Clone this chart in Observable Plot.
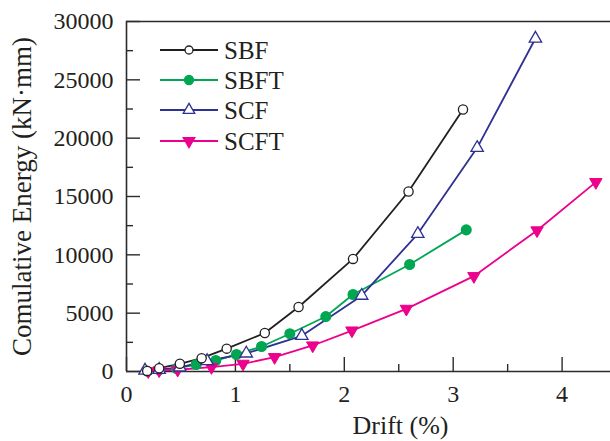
<!DOCTYPE html>
<html>
<head>
<meta charset="utf-8">
<script src="https://cdn.jsdelivr.net/npm/d3@7"></script>
<script src="https://cdn.jsdelivr.net/npm/@observablehq/plot@0.6"></script>
<style>
  html, body { margin: 0; padding: 0; background: #fff; overflow: hidden; }
  #chart { position: relative; width: 610px; height: 441px; }
  svg { font-family: "Liberation Serif", "Times New Roman", serif; }
</style>
</head>
<body>
<div id="chart"></div>
<script>
// ---- data ----
const seriesNames = ["SBF", "SBFT", "SCF", "SCFT"];
const sbfDrift   = [0.19, 0.30, 0.49, 0.69, 0.92, 1.27, 1.58, 2.08, 2.59, 3.09];
const sbfEnergy  = [50, 280, 660, 1140, 1960, 3300, 5530, 9650, 15430, 22460];
const sbftDrift  = [0.19, 0.30, 0.46, 0.64, 0.82, 1.01, 1.24, 1.50, 1.83, 2.08, 2.60, 3.12];
const sbftEnergy = [30, 150, 260, 600, 940, 1460, 2140, 3240, 4710, 6600, 9170, 12140];
const scfDrift   = [0.17, 0.30, 0.49, 0.74, 1.10, 1.61, 2.16, 2.675, 3.22, 3.755];
const scfEnergy  = [80, 150, 350, 900, 1550, 3060, 6500, 11800, 19170, 28540];
const scftDrift  = [0.20, 0.30, 0.47, 0.78, 1.07, 1.36, 1.71, 2.07, 2.57, 3.19, 3.77, 4.31];
const scftEnergy = [20, 90, 150, 370, 660, 1230, 2230, 3510, 5370, 8170, 12090, 16230];
const yMajorTicks = [0, 5000, 10000, 15000, 20000, 25000, 30000];
const yMinorTicks = [2500, 7500, 12500, 17500, 22500, 27500];
const xMajorTicks = [0, 1, 2, 3, 4];
const xMinorTicks = [0.5, 1.5, 2.5, 3.5];
const xLabel = "Drift (%)";
const yLabel = "Comulative Energy (kN·mm)";

const colors = {SBF: "#231f20", SBFT: "#00a651", SCF: "#2e3192", SCFT: "#ec008c"};

const rows = (name, xs, ys) => xs.map((x, i) => ({series: name, drift: x, energy: ys[i]}));
const sbf = rows("SBF", sbfDrift, sbfEnergy);
const sbft = rows("SBFT", sbftDrift, sbftEnergy);
const scf = rows("SCF", scfDrift, scfEnergy);
const scft = rows("SCFT", scftDrift, scftEnergy);

// downward-pointing triangle symbol
const triangleDown = {
  draw(context, size) {
    const s3 = Math.sqrt(3);
    const y = -Math.sqrt(size / (s3 * 3));
    context.moveTo(0, -y * 2);
    context.lineTo(-s3 * y, y);
    context.lineTo(s3 * y, y);
    context.closePath();
  }
};

const axisColor = "#2b2b2b";
const W = 610, H = 441, mL = 126, mR = 0, mT = 21, mB = 70;
const xMax = (W - mL) / 108.9;

const plot = Plot.plot({
  width: W, height: H,
  marginLeft: mL, marginRight: mR, marginTop: mT, marginBottom: mB,
  x: {domain: [0, xMax]},
  y: {domain: [0, 30000]},
  style: {fontFamily: "'Liberation Serif', 'Times New Roman', serif", color: "#231f20", background: "#fff"},
  marks: [
    // tick labels
    Plot.axisY({ticks: yMajorTicks, tickSize: 0, tickPadding: 13, fontSize: 24, label: null, tickFormat: d => String(d)}),
    Plot.axisX({ticks: xMajorTicks, tickSize: 0, tickPadding: 13, fontSize: 24, label: null, tickFormat: d => String(d)}),
    // inward ticks
    Plot.axisY({ticks: yMajorTicks, tickSize: 14, dx: 14, text: null, label: null, stroke: axisColor, strokeWidth: 1.4}),
    Plot.axisY({ticks: yMinorTicks, tickSize: 7, dx: 7, text: null, label: null, stroke: axisColor, strokeWidth: 1.4}),
    Plot.axisX({ticks: xMajorTicks, tickSize: 14, dy: -14, text: null, label: null, stroke: axisColor, strokeWidth: 1.4}),
    Plot.axisX({ticks: xMinorTicks, tickSize: 7, dy: -7, text: null, label: null, stroke: axisColor, strokeWidth: 1.4}),
    // frame lines (left, bottom, top)
    Plot.ruleX([0], {stroke: axisColor, strokeWidth: 1.6}),
    Plot.ruleY([0, 30000], {stroke: axisColor, strokeWidth: 1.6}),
    // axis titles
    Plot.text([xLabel], {frameAnchor: "bottom", textAnchor: "middle", lineAnchor: "middle", dx: 32, dy: 54, fontSize: 26, fill: "#231f20"}),
    Plot.text([yLabel], {frameAnchor: "left", textAnchor: "middle", lineAnchor: "middle", dx: -104, rotate: -90, fontSize: 27, fill: "#231f20"}),
    // series lines
    Plot.line(sbf, {x: "drift", y: "energy", stroke: colors.SBF, strokeWidth: 1.8}),
    Plot.line(sbft, {x: "drift", y: "energy", stroke: colors.SBFT, strokeWidth: 1.8}),
    Plot.line(scf, {x: "drift", y: "energy", stroke: colors.SCF, strokeWidth: 1.8}),
    Plot.line(scft, {x: "drift", y: "energy", stroke: colors.SCFT, strokeWidth: 1.8}),
    // markers
    Plot.dot(sbft, {x: "drift", y: "energy", r: 4.8, fill: colors.SBFT, stroke: colors.SBFT}),
    Plot.dot(scft, {x: "drift", y: "energy", r: 4.6, symbol: triangleDown, fill: colors.SCFT, stroke: colors.SCFT, strokeWidth: 1}),
    Plot.dot(scf, {x: "drift", y: "energy", r: 4.6, symbol: "triangle", fill: "#fff", stroke: colors.SCF, strokeWidth: 1.3}),
    Plot.dot(sbf, {x: "drift", y: "energy", r: 4.6, fill: "#fff", stroke: colors.SBF, strokeWidth: 1.3})
  ]
});

document.getElementById("chart").appendChild(plot);

// legend (inside the plot area, top-left)
const svg = d3.select(plot);
const lg = svg.append("g").attr("class", "legend").attr("text-anchor", "start");
const legendSymbols = {
  SBF: {type: d3.symbolCircle, fill: "#fff", size: Math.PI * 4 * 4},
  SBFT: {type: d3.symbolCircle, fill: colors.SBFT, size: Math.PI * 4.5 * 4.5},
  SCF: {type: d3.symbolTriangle, fill: "#fff", size: Math.PI * 4.3 * 4.3},
  SCFT: {type: triangleDown, fill: colors.SCFT, size: Math.PI * 4.3 * 4.3}
};
const rowY = [50, 80, 110, 141];
seriesNames.forEach((name, i) => {
  const y = rowY[i];
  const c = colors[name];
  lg.append("line").attr("x1", 160).attr("x2", 218).attr("y1", y).attr("y2", y)
    .attr("stroke", c).attr("stroke-width", 1.8);
  const sym = legendSymbols[name];
  lg.append("path").attr("transform", `translate(189,${y})`)
    .attr("d", d3.symbol(sym.type, sym.size)())
    .attr("fill", sym.fill).attr("stroke", c).attr("stroke-width", 1.3);
  lg.append("text").attr("x", 224).attr("y", y).attr("dy", "0.35em")
    .attr("text-anchor", "start")
    .attr("font-size", 25).attr("fill", "#231f20").text(name);
});
</script>
</body>
</html>
